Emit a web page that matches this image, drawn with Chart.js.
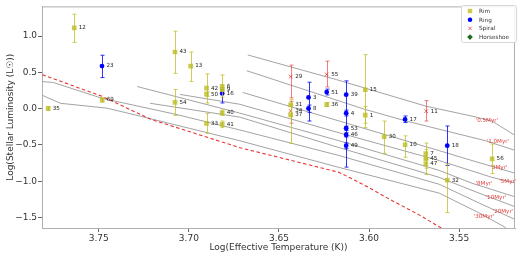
<!DOCTYPE html>
<html>
<head>
<meta charset="utf-8">
<script src="https://cdn.jsdelivr.net/npm/chart.js@4.4.1/dist/chart.umd.min.js"></script>
<style>
  html, body { margin: 0; padding: 0; background: #fff; }
  #wrap { width: 520px; height: 257px; }
</style>
</head>
<body>
<div id="wrap"><canvas id="hrChart"></canvas></div>
<script>
// Rim discs
const rimIds   = ['12', '69', '35', '43', '13', '42', '50', '6', '9', '54', '40', '41', '33', '31', '37', '36', '15', '1', '30', '10', '7', '45', '47', '32', '56'];
const rimTemp  = [3.7636, 3.7481, 3.7781, 3.7077, 3.6990, 3.6902, 3.6902, 3.6815, 3.6815, 3.7077, 3.6815, 3.6815, 3.6902, 3.6435, 3.6435, 3.6235, 3.6021, 3.6021, 3.5916, 3.5800, 3.5685, 3.5685, 3.5685, 3.5566, 3.5317];
const rimLum   = [1.113, 0.120, 0.003, 0.782, 0.588, 0.283, 0.200, 0.310, 0.265, 0.088, -0.057, -0.215, -0.201, 0.052, -0.085, 0.057, 0.261, -0.088, -0.384, -0.497, -0.620, -0.691, -0.760, -0.986, -0.691];
const rimErrLo = [0.914, 0.090, -0.025, 0.487, 0.374, 0.079, 0.170, 0.160, 0.240, -0.092, -0.092, -0.260, -0.337, -0.100, -0.479, 0.030, -0.261, -0.200, -0.615, -0.669, -0.680, -0.905, -0.820, -1.431, -0.895];
const rimErrHi = [1.303, 0.150, 0.030, 1.068, 0.782, 0.479, 0.230, 0.465, 0.290, 0.265, -0.020, -0.170, -0.065, 0.129, 0.050, 0.085, 0.746, 0.030, -0.170, -0.374, -0.560, -0.473, -0.700, -0.759, -0.487];

// Ring discs
const ringIds   = ['23', '16', '3', '8', '51', '39', '4', '53', '46', '49', '17', '18'];
const ringTemp  = [3.7482, 3.6815, 3.6336, 3.6336, 3.6235, 3.6127, 3.6127, 3.6127, 3.6127, 3.6127, 3.5800, 3.5566];
const ringLum   = [0.588, 0.211, 0.156, 0.003, 0.229, 0.193, -0.061, -0.269, -0.361, -0.510, -0.147, -0.510];
const ringErrLo = [0.429, 0.079, -0.170, -0.050, 0.190, -0.805, -0.100, -0.300, -0.390, -0.550, -0.190, -0.782];
const ringErrHi = [0.737, 0.260, 0.365, 0.050, 0.270, 0.384, -0.020, -0.240, -0.330, -0.470, -0.100, -0.238];

// Spiral discs
const spiralIds   = ['29', '34', '55', '11'];
const spiralTemp  = [3.6435, 3.6435, 3.6235, 3.5683];
const spiralLum   = [0.442, -0.030, 0.473, -0.034];
const spiralErrLo = [0.150, -0.200, 0.300, -0.170];
const spiralErrHi = [0.601, 0.100, 0.656, 0.112];

// isochrones
const isoNames = ["'0.5Myr'", "'1.0Myr'", "'3Myr'", "'5Myr'", "'8Myr'", "'10Myr'", "'20Myr'", "'30Myr'"];
const iso05Temp = [3.6673, 3.6181, 3.5683, 3.5429, 3.5318, 3.5186];
const iso05Lum  = [0.741, 0.401, 0.034, -0.102, -0.170, -0.374];
const iso1Temp  = [3.6679, 3.6026, 3.5794, 3.5352, 3.5186];
const iso1Lum   = [0.524, -0.007, -0.170, -0.442, -0.578];
const iso3Temp  = [3.6701, 3.6165, 3.5611, 3.5429, 3.5186];
const iso3Lum   = [0.224, -0.170, -0.578, -0.714, -0.891];
const iso5Temp  = [3.7049, 3.6717, 3.6165, 3.5611, 3.5318, 3.5186];
const iso5Lum   = [0.197, 0.061, -0.333, -0.714, -0.946, -1.027];
const iso8Temp  = [3.7287, 3.6717, 3.6165, 3.5611, 3.5429, 3.5186];
const iso8Lum   = [0.306, -0.061, -0.442, -0.850, -1.027, -1.218];
const iso10Temp = [3.7215, 3.6717, 3.6165, 3.5611, 3.5390, 3.5186];
const iso10Lum  = [0.075, -0.116, -0.537, -0.946, -1.163, -1.354];
const iso20Temp = [3.7813, 3.7752, 3.7481, 3.7077, 3.6717, 3.6165, 3.5611, 3.5390, 3.5186];
const iso20Lum  = [0.374, 0.361, 0.143, -0.075, -0.293, -0.646, -1.041, -1.299, -1.531];
const iso30Temp = [3.7813, 3.7713, 3.7453, 3.7271, 3.6717, 3.6165, 3.5611, 3.5390, 3.5241];
const iso30Lum  = [0.184, 0.075, 0.007, -0.102, -0.442, -0.810, -1.163, -1.435, -1.639];
const isoLabelTemp = [3.5346, 3.5285, 3.5279, 3.5230, 3.5362, 3.5296, 3.5257, 3.5362];
const isoLabelLum  = [-0.170, -0.456, -0.810, -1.000, -1.027, -1.218, -1.422, -1.490];

// main sequence (red dashed)
const zamsTemp = [3.7813, 3.7481, 3.7215, 3.6717, 3.6386, 3.6165, 3.6015, 3.5888, 3.5722, 3.5584];
const zamsLum  = [0.469, 0.170, -0.143, -0.537, -0.741, -0.878, -1.068, -1.245, -1.463, -1.667];

const xTicks = [3.75, 3.70, 3.65, 3.60, 3.55];
const yTicks = [-1.5, -1.0, -0.5, 0.0, 0.5, 1.0];

const FONT = 'DejaVu Sans';
const pts = (xs, ys) => xs.map((v, i) => ({x: v, y: ys[i]}));
const minus = s => s.replace('-', '\u2212');

const isoSets = [
    [iso05Temp, iso05Lum], [iso1Temp, iso1Lum], [iso3Temp, iso3Lum], [iso5Temp, iso5Lum],
    [iso8Temp, iso8Lum], [iso10Temp, iso10Lum], [iso20Temp, iso20Lum], [iso30Temp, iso30Lum]
];

const datasets = [
    {
        label: 'Rim', data: pts(rimTemp, rimLum), ids: rimIds, errLo: rimErrLo, errHi: rimErrHi,
        pointStyle: 'rect', pointRadius: 3.3, backgroundColor: 'rgba(188,189,34,0.8)',
        borderColor: 'rgba(188,189,34,0.8)', borderWidth: 0, barColor: 'rgba(188,189,34,0.75)', order: 0
    },
    {
        label: 'Ring', data: pts(ringTemp, ringLum), ids: ringIds, errLo: ringErrLo, errHi: ringErrHi,
        pointStyle: 'circle', pointRadius: 2.4, backgroundColor: '#0000ff',
        borderColor: '#0000ff', borderWidth: 0, barColor: 'rgba(0,0,255,0.8)', order: 0
    },
    {
        label: 'Spiral', data: pts(spiralTemp, spiralLum), ids: spiralIds, errLo: spiralErrLo, errHi: spiralErrHi,
        pointStyle: 'crossRot', pointRadius: 2.6, backgroundColor: 'rgba(230,40,40,0.7)',
        borderColor: 'rgba(230,40,40,0.7)', borderWidth: 1, barColor: 'rgba(230,40,40,0.6)', order: 0
    },
    {
        label: 'Horseshoe', data: [], pointStyle: 'rectRot', pointRadius: 3,
        backgroundColor: '#1e6b1e', borderColor: '#1e6b1e', borderWidth: 0, order: 0
    }
];

isoSets.forEach((s, i) => {
    datasets.push({
        type: 'line', label: isoNames[i], data: pts(s[0], s[1]), showLine: true,
        borderColor: '#999', borderWidth: 0.9, pointRadius: 0, fill: false, tension: 0, order: 2
    });
});

datasets.push({
    type: 'line', label: 'ZAMS', data: pts(zamsTemp, zamsLum), showLine: true,
    borderColor: 'rgba(230,30,30,0.9)', borderWidth: 1.1, borderDash: [3.5, 2.5],
    pointRadius: 0, fill: false, order: 1
});

const errorBars = {
    id: 'errorBars',
    beforeDatasetDraw(chart, args) {
        const ds = chart.data.datasets[args.index];
        if (!ds.errLo) return;
        const {ctx, scales: {x, y}} = chart;
        ctx.save();
        ctx.strokeStyle = ds.barColor;
        ctx.lineWidth = 1;
        ds.data.forEach((p, j) => {
            const px = Math.round(x.getPixelForValue(p.x)) + 0.5;
            const top = y.getPixelForValue(ds.errHi[j]);
            const bot = y.getPixelForValue(ds.errLo[j]);
            ctx.beginPath();
            ctx.moveTo(px, top); ctx.lineTo(px, bot);
            ctx.moveTo(px - 2, top); ctx.lineTo(px + 2, top);
            ctx.moveTo(px - 2, bot); ctx.lineTo(px + 2, bot);
            ctx.stroke();
        });
        ctx.restore();
    }
};

const annotations = {
    id: 'annotations',
    afterDatasetsDraw(chart) {
        const {ctx, chartArea: a, scales: {x, y}} = chart;
        ctx.save();
        // point ids
        ctx.font = '5.6px "' + FONT + '"';
        ctx.fillStyle = '#1a1a1a';
        ctx.textAlign = 'left';
        ctx.textBaseline = 'middle';
        chart.data.datasets.forEach(ds => {
            if (!ds.ids) return;
            ds.data.forEach((p, j) => {
                ctx.fillText(ds.ids[j], x.getPixelForValue(p.x) + 4.5, y.getPixelForValue(p.y));
            });
        });
        // isochrone names
        ctx.fillStyle = 'rgba(230,40,40,0.9)';
        ctx.textAlign = 'center';
        isoNames.forEach((n, i) => {
            ctx.fillText(n, x.getPixelForValue(isoLabelTemp[i]), y.getPixelForValue(isoLabelLum[i]));
        });
        // top and right spines
        ctx.strokeStyle = '#b0b0b0';
        ctx.lineWidth = 1;
        ctx.beginPath();
        ctx.moveTo(a.left, a.top + 0.5); ctx.lineTo(a.right, a.top + 0.5);
        ctx.moveTo(a.right - 0.5, a.top); ctx.lineTo(a.right - 0.5, a.bottom);
        ctx.stroke();
        // legend box
        const lx = 461, ly = 5, lw = 55, lh = 37;
        ctx.fillStyle = 'rgba(255,255,255,0.85)';
        ctx.strokeStyle = '#d6d6d6';
        ctx.beginPath();
        ctx.roundRect(lx + 0.5, ly + 0.5, lw, lh, 2);
        ctx.fill(); ctx.stroke();
        ctx.font = '5.7px "' + FONT + '"';
        ctx.textAlign = 'left';
        chart.data.datasets.slice(0, 4).forEach((ds, i) => {
            const cy = ly + 6 + i * 8.7;
            ctx.fillStyle = ds.backgroundColor;
            ctx.strokeStyle = ds.borderColor;
            ctx.lineWidth = ds.borderWidth || 0.01;
            Chart.helpers.drawPoint(ctx, {
                pointStyle: ds.pointStyle, radius: ds.pointRadius * 0.95, borderWidth: ds.borderWidth || 0
            }, lx + 9, cy);
            ctx.fillStyle = '#333';
            ctx.fillText(ds.label, lx + 18, cy + 0.5);
        });
        ctx.restore();
    }
};

new Chart(document.getElementById('hrChart'), {
    type: 'scatter',
    data: {datasets: datasets},
    options: {
        responsive: true,
        maintainAspectRatio: false,
        animation: false,
        layout: {padding: {top: 4, right: 3, left: 0, bottom: 0}},
        plugins: {
            legend: {display: false},
            tooltip: {enabled: false}
        },
        scales: {
            x: {
                type: 'linear',
                reverse: true,
                min: 3.519,
                max: 3.7815,
                afterBuildTicks: s => { s.ticks = xTicks.map(v => ({value: v})); },
                afterFit: s => { s.height = 29; },
                ticks: {
                    color: '#333', padding: 1,
                    font: {family: FONT, size: 9},
                    callback: v => v.toFixed(2)
                },
                grid: {display: true, drawOnChartArea: false, drawTicks: true, tickLength: 4, color: '#666'},
                border: {display: true, color: '#b0b0b0'},
                title: {
                    display: true, text: 'Log(Effective Temperature (K))', color: '#333',
                    font: {family: FONT, size: 9}, padding: {top: 0, bottom: 4}
                }
            },
            y: {
                min: -1.644,
                max: 1.41,
                afterBuildTicks: s => { s.ticks = yTicks.map(v => ({value: v})); },
                afterFit: s => { s.width = 42; },
                ticks: {
                    color: '#333', padding: 1,
                    font: {family: FONT, size: 9},
                    callback: v => minus(v.toFixed(1))
                },
                grid: {display: true, drawOnChartArea: false, drawTicks: true, tickLength: 4, color: '#666'},
                border: {display: true, color: '#b0b0b0'},
                title: {
                    display: true, text: 'Log(Stellar Luminosity (L\u2609))', color: '#333',
                    font: {family: FONT, size: 9}, padding: {top: 5, bottom: 0}
                }
            }
        }
    },
    plugins: [errorBars, annotations]
});
</script>
</body>
</html>
